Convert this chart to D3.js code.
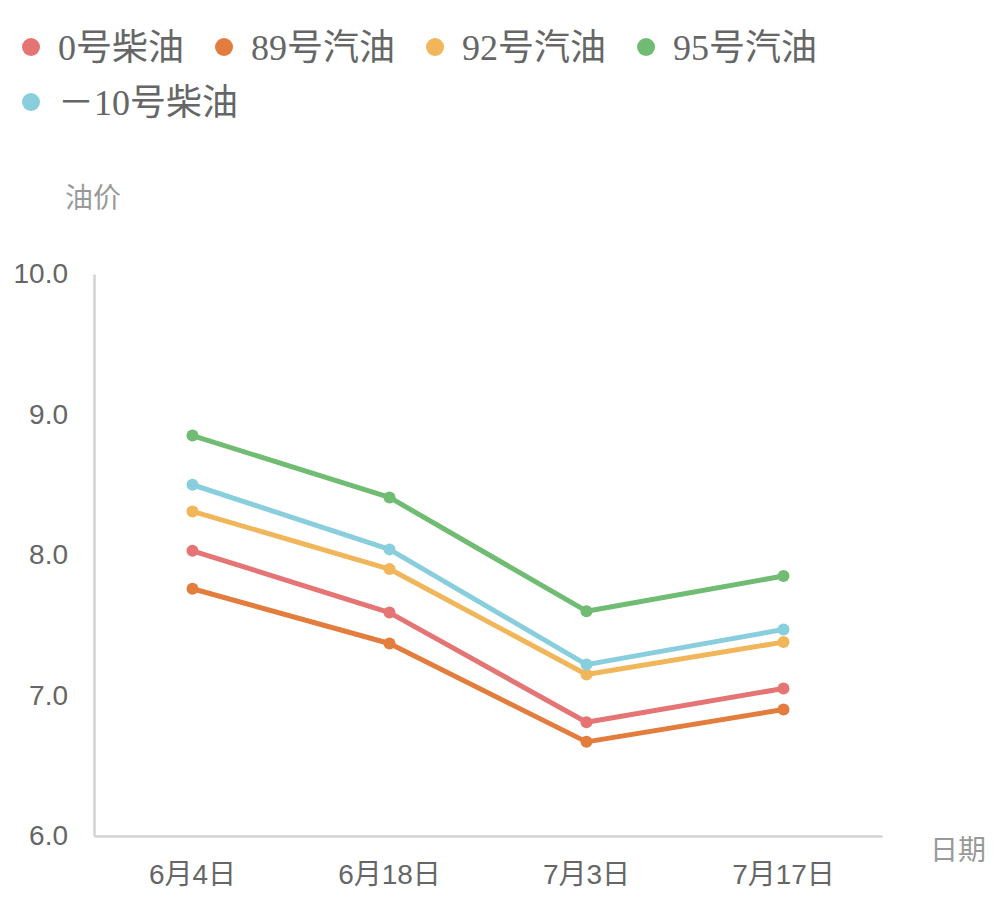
<!DOCTYPE html>
<html>
<head>
<meta charset="utf-8">
<script src="https://cdn.jsdelivr.net/npm/d3@7"></script>
<style>
  html, body { margin: 0; padding: 0; background: #fff; }
  svg { display: block; }
</style>
</head>
<body>
<svg id="chart" width="1008" height="920"></svg>
<script>
// Chart data.
var dates = ["6月4日", "6月18日", "7月3日", "7月17日"];
var seriesNames = ["0号柴油", "89号汽油", "92号汽油", "95号汽油", "－10号柴油"];
var seriesColors = ["#e57575", "#e27d3d", "#f1b65a", "#70bc73", "#89cedd"];
var diesel0 = [8.03, 7.59, 6.81, 7.05];
var gas89 = [7.76, 7.37, 6.67, 6.90];
var gas92 = [8.31, 7.90, 7.15, 7.38];
var gas95 = [8.85, 8.41, 7.60, 7.85];
var dieselMinus10 = [8.50, 8.04, 7.22, 7.47];
var yTicks = [6, 7, 8, 9, 10];

var seriesValues = [diesel0, gas89, gas92, gas95, dieselMinus10];

var svg = d3.select("#chart");
var sansFont = "'Liberation Sans', 'Noto Sans CJK SC', sans-serif";
var legendFont = "'Liberation Serif', 'Noto Sans CJK SC', serif";

var xScale = d3.scaleBand()
  .domain(dates)
  .range([94, 882]);

var yScale = d3.scaleLinear()
  .domain([6, 10])
  .range([836, 274]);

// Axes (lines only, no tick marks).
var xAxisG = svg.append("g")
  .attr("transform", "translate(0,836)")
  .call(d3.axisBottom(xScale).tickSize(0).tickPadding(28));
xAxisG.select(".domain").attr("stroke", "#d3d3d3").attr("stroke-width", 2.5);
xAxisG.selectAll("text")
  .style("font-family", sansFont)
  .style("font-size", "28px")
  .attr("fill", "#666");

var yAxisG = svg.append("g")
  .attr("transform", "translate(94,0)")
  .call(d3.axisLeft(yScale).tickValues(yTicks).tickFormat(d3.format(".1f")).tickSize(0).tickPadding(26));
yAxisG.select(".domain").attr("stroke", "#d3d3d3").attr("stroke-width", 2.5);
yAxisG.selectAll("text")
  .style("font-family", sansFont)
  .style("font-size", "28px")
  .attr("fill", "#666");

// Axis names.
svg.append("text")
  .attr("x", 65)
  .attr("y", 208)
  .style("font-family", sansFont)
  .style("font-size", "28px")
  .attr("fill", "#999")
  .text("油价");

svg.append("text")
  .attr("x", 930)
  .attr("y", 860)
  .style("font-family", sansFont)
  .style("font-size", "28px")
  .attr("fill", "#999")
  .text("日期");

// Lines and points.
var line = d3.line()
  .x(function (d, i) { return xScale(dates[i]) + xScale.bandwidth() / 2; })
  .y(function (d) { return yScale(d); });

seriesValues.forEach(function (values, s) {
  var g = svg.append("g").attr("class", "series");
  g.append("path")
    .datum(values)
    .attr("d", line)
    .attr("fill", "none")
    .attr("stroke", seriesColors[s])
    .attr("stroke-width", 5)
    .attr("stroke-linejoin", "round");
  g.selectAll("circle")
    .data(values)
    .enter()
    .append("circle")
    .attr("cx", function (d, i) { return xScale(dates[i]) + xScale.bandwidth() / 2; })
    .attr("cy", function (d) { return yScale(d); })
    .attr("r", 6)
    .attr("fill", seriesColors[s]);
});

// Legend, wrapping onto a second row.
var legend = svg.append("g").attr("class", "legend");
var lx = 31, ly = 47, rowHeight = 55, maxX = 860;
seriesNames.forEach(function (name, i) {
  var item = legend.append("g");
  item.append("circle")
    .attr("r", 9)
    .attr("fill", seriesColors[i]);
  var t = item.append("text")
    .attr("x", 27)
    .attr("dy", "0.35em")
    .style("font-family", legendFont)
    .style("font-size", "36px")
    .attr("fill", "#666")
    .text(name);
  var w = 27 + t.node().getComputedTextLength();
  if (lx + w > maxX && lx > 31) {
    lx = 31;
    ly += rowHeight;
  }
  item.attr("transform", "translate(" + lx + "," + ly + ")");
  lx += w + 40;
});
</script>
</body>
</html>
